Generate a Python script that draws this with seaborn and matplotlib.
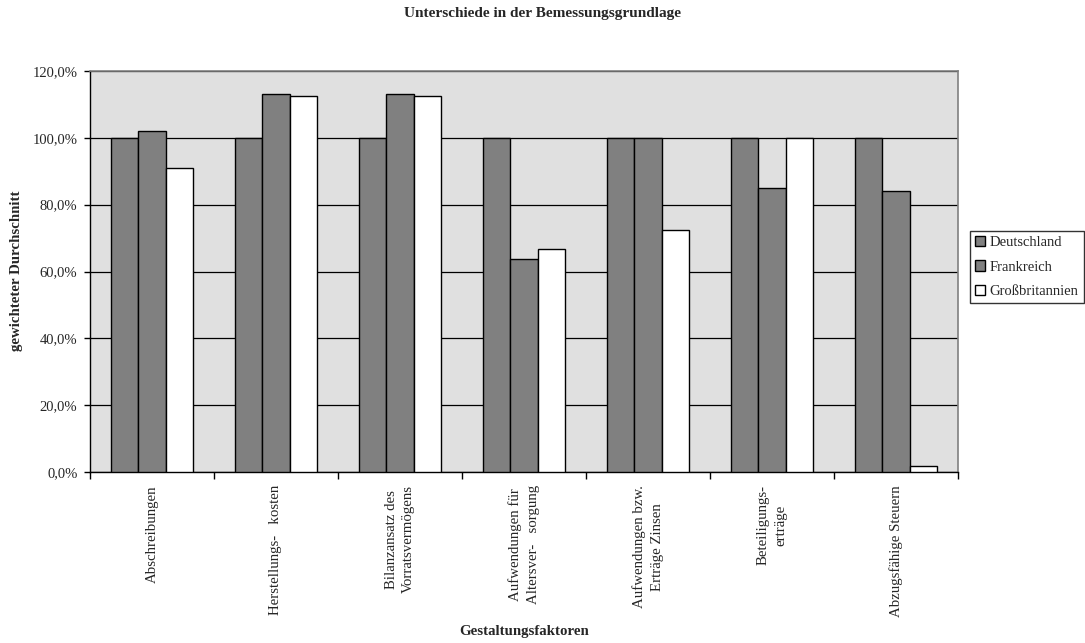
import numpy as np
import pandas as pd
import matplotlib
matplotlib.use("Agg")
import matplotlib.pyplot as plt
from matplotlib.ticker import FuncFormatter, FixedLocator
from matplotlib.patches import Patch
import seaborn as sns

# Gestaltungsfaktoren (x categories) and tick label text
categories = [
    "Abschreibungen",
    "Herstellungskosten",
    "Bilanzansatz des Vorratsvermögens",
    "Aufwendungen für Altersversorgung",
    "Aufwendungen bzw. Erträge Zinsen",
    "Beteiligungserträge",
    "Abzugsfähige Steuern",
]
tick_labels = [
    "Abschreibungen",
    "Herstellungs-   kosten",
    "Bilanzansatz des\nVorratsvermögens",
    "Aufwendungen für\nAltersver-   sorgung",
    "Aufwendungen bzw.\nErträge Zinsen",
    "Beteiligungs-\nerträge",
    "Abzugsfähige Steuern",
]

# weighted average per country, in percent
countries = ["Deutschland", "Frankreich", "Großbritannien"]
deutschland = [100.0, 100.0, 100.0, 100.0, 100.0, 100.0, 100.0]
frankreich = [102.0, 113.2, 113.2, 63.6, 100.0, 85.0, 84.0]
grossbritannien = [91.0, 112.4, 112.4, 66.7, 72.5, 100.0, 1.8]

df = pd.DataFrame({
    "Faktor": categories * 3,
    "Land": [countries[0]] * 7 + [countries[1]] * 7 + [countries[2]] * 7,
    "Wert": deutschland + frankreich + grossbritannien,
})

colors = ["#808080", "#808080", "#ffffff"]

sns.set_style("white")
plt.rcParams["font.family"] = ["Liberation Serif", "DejaVu Serif"]

fig = plt.figure(figsize=(10.85, 6.43), dpi=100)
ax = fig.add_axes([90 / 1085, 1 - 472 / 643, (958 - 90) / 1085, (472 - 71) / 643])
ax.set_facecolor("#e0e0e0")

sns.barplot(data=df, x="Faktor", y="Wert", hue="Land", order=categories,
            hue_order=countries, palette=colors, width=0.667,
            edgecolor="black", linewidth=1.0, ax=ax, legend=False, zorder=3)

ax.set_ylim(0, 120)
ax.set_xlim(-0.5, len(categories) - 0.5)
ax.set_yticks(np.arange(0, 121, 20))
ax.yaxis.set_major_formatter(FuncFormatter(lambda v, _: f"{v:.1f}%".replace(".", ",")))
ax.grid(axis="y", color="black", linewidth=0.9, zorder=1)
ax.set_axisbelow(True)

# labels centred under each group, tick marks at group boundaries
ax.set_xticks(range(len(categories)))
ax.set_xticklabels(tick_labels, rotation=90, ha="center", va="top",
                   multialignment="center", fontsize=10.75)
for lbl in ax.get_xticklabels():
    lbl.set_linespacing(1.45)
ax.tick_params(axis="x", which="major", length=0, pad=9.5)
ax.xaxis.set_minor_locator(FixedLocator(np.arange(-0.5, len(categories), 1.0)))
ax.tick_params(axis="x", which="minor", length=5, width=1, color="black",
               direction="out", bottom=True)
ax.tick_params(axis="y", length=4, width=1, color="black", direction="out",
               left=True, pad=5, labelsize=10.5)

for side in ["left", "bottom"]:
    ax.spines[side].set_color("black")
    ax.spines[side].set_linewidth(1.0)
for side in ["top", "right"]:
    ax.spines[side].set_color("#808080")
    ax.spines[side].set_linewidth(1.2)

ax.set_xlabel("")
ax.set_ylabel("")
fig.text(17 / 1085, 1 - 271 / 643, "gewichteter Durchschnitt", rotation=90,
         ha="center", va="center", fontsize=10.75, fontweight="bold")
fig.text(524 / 1085, 1 - 632 / 643, "Gestaltungsfaktoren",
         ha="center", va="center", fontsize=10.75, fontweight="bold")
fig.text(542 / 1085, 1 - 13 / 643, "Unterschiede in der Bemessungsgrundlage",
         ha="center", va="center", fontsize=11, fontweight="bold")

handles = [Patch(facecolor=c, edgecolor="black", linewidth=1.0) for c in colors]
leg = fig.legend(handles, countries, loc="center left",
                 bbox_to_anchor=(970 / 1085, 1 - 267 / 643), fontsize=10.5,
                 frameon=True, fancybox=False, edgecolor="black",
                 handlelength=0.7, handleheight=0.7, handletextpad=0.3,
                 borderpad=0.35, labelspacing=0.78, borderaxespad=0)
leg.get_frame().set_linewidth(1.0)

fig.savefig("out.png", dpi=100, facecolor="white")
